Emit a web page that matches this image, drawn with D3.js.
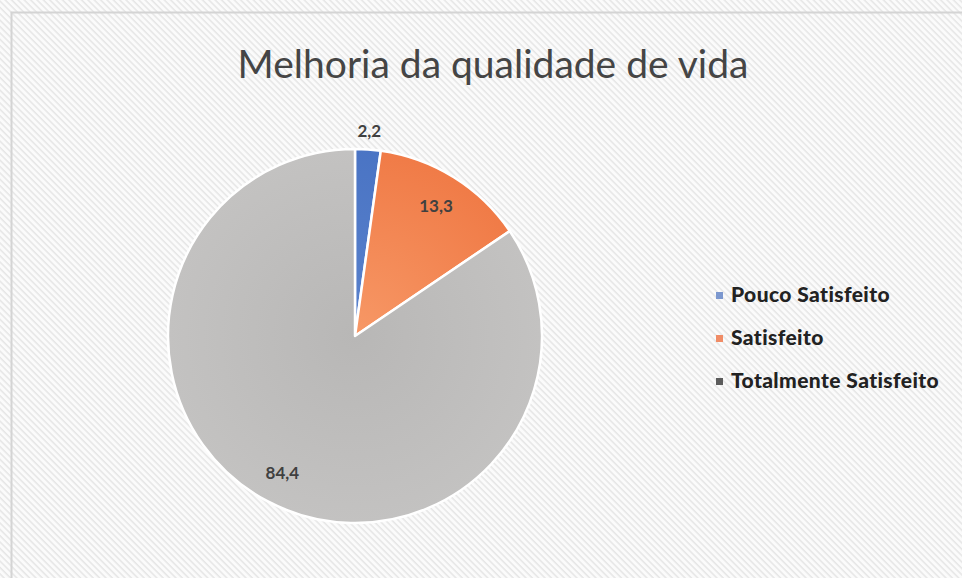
<!DOCTYPE html>
<html>
<head>
<meta charset="utf-8">
<script src="https://cdn.jsdelivr.net/npm/d3@7"></script>
<style>
  body { margin: 0; background: #fff; }
  text { font-family: Lato, "Open Sans", sans-serif; }
</style>
</head>
<body>
<div id="chart"></div>
<script>
// chart values
var categories = ["Pouco Satisfeito", "Satisfeito", "Totalmente Satisfeito"];
var values = [2.2, 13.3, 84.4];
var labels = ["2,2", "13,3", "84,4"];
var colors = ["#4a74c4", "#f07b47", "#c3c2c1"];
var centerColors = ["#5a82cc", "#f79866", "#b8b7b6"];
var legendColors = ["#7c98cf", "#f08c66", "#5c5c5c"];

var width = 962, height = 578;
var cx = 355, cy = 336, radius = 187;

var svg = d3.select("#chart").append("svg")
    .attr("width", width)
    .attr("height", height);

var defs = svg.append("defs");

// diagonal hatch like the excel background, lines going "\"
var hatch = defs.append("pattern")
    .attr("id", "hatch")
    .attr("patternUnits", "userSpaceOnUse")
    .attr("width", 4.5)
    .attr("height", 4.5)
    .attr("patternTransform", "rotate(45)");
hatch.append("rect").attr("width", 4.5).attr("height", 4.5).attr("fill", "#fbfbfb");
hatch.append("rect").attr("width", 4.5).attr("height", 1.5).attr("fill", "#e6e6e6");

// radial gradients per slice
colors.forEach(function (c, i) {
    var g = defs.append("radialGradient")
        .attr("id", "grad" + i)
        .attr("gradientUnits", "userSpaceOnUse")
        .attr("cx", 0).attr("cy", 0).attr("r", radius);
    g.append("stop").attr("offset", "0%").attr("stop-color", centerColors[i]);
    g.append("stop").attr("offset", "100%").attr("stop-color", c);
});

svg.append("rect")
    .attr("x", 0).attr("y", 0)
    .attr("width", width).attr("height", height)
    .attr("fill", "url(#hatch)");

// chart border (only left and top show in the picture)
svg.append("path")
    .attr("d", "M11.5," + height + "V12.5H" + width)
    .attr("fill", "none")
    .attr("stroke", "#d4d4d4")
    .attr("stroke-width", 2);

svg.append("text")
    .attr("x", 493)
    .attr("y", 78)
    .attr("text-anchor", "middle")
    .style("font-size", "39px")
    .style("fill", "#454545")
    .text("Melhoria da qualidade de vida");

var pie = d3.pie().sort(null).value(function (d) { return d; });
var arcs = pie(values);

var arc = d3.arc().innerRadius(0).outerRadius(radius);

var g = svg.append("g").attr("transform", "translate(" + cx + "," + cy + ")");

g.selectAll("path.slice")
    .data(arcs)
    .enter().append("path")
    .attr("class", "slice")
    .attr("d", arc)
    .style("fill", function (d, i) { return "url(#grad" + i + ")"; })
    .style("stroke", "#fff")
    .style("stroke-width", 2.5)
    .style("stroke-linejoin", "round");

// label radii: small slice sits outside
var labelR = [radius * 1.1, radius * 0.82, radius * 0.83];
g.selectAll("text.lbl")
    .data(arcs)
    .enter().append("text")
    .attr("class", "lbl")
    .attr("transform", function (d, i) {
        var a = (d.startAngle + d.endAngle) / 2;
        return "translate(" + (Math.sin(a) * labelR[i]) + "," + (-Math.cos(a) * labelR[i]) + ")";
    })
    .attr("text-anchor", "middle")
    .attr("dy", "0.35em")
    .style("font-size", "17px")
    .style("font-weight", "bold")
    .style("fill", "#404040")
    .text(function (d, i) { return labels[i]; });

// legend
var legend = svg.append("g").attr("transform", "translate(716,295)");
var item = legend.selectAll("g")
    .data(categories)
    .enter().append("g")
    .attr("transform", function (d, i) { return "translate(0," + (i * 43) + ")"; });
item.append("rect")
    .attr("x", 0).attr("y", -3)
    .attr("width", 7).attr("height", 7)
    .style("fill", function (d, i) { return legendColors[i]; });
item.append("text")
    .attr("x", 15)
    .attr("dy", "0.35em")
    .style("font-size", "21px")
    .style("font-weight", "900")
    .style("letter-spacing", "0.4px")
    .style("fill", "#222")
    .text(function (d) { return d; });
</script>
</body>
</html>
